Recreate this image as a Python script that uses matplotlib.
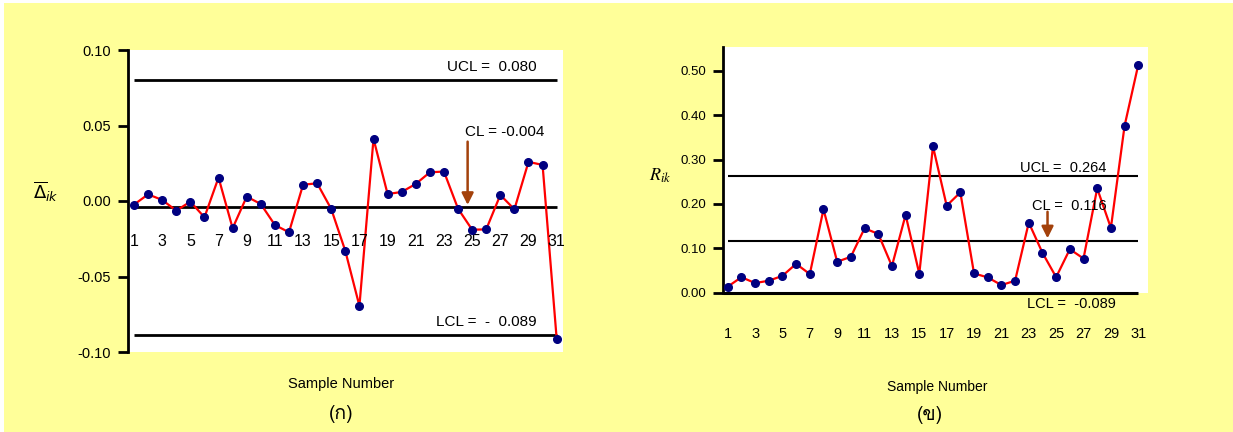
import matplotlib
matplotlib.use("Agg")
from matplotlib import pyplot as plt
from matplotlib import font_manager
from matplotlib.ft2font import FT2Font
from matplotlib.patches import Rectangle

# sample numbers shared by both charts
samples = list(range(1, 32))
tick_samples = list(range(1, 32, 2))

# mean deviation chart
delta_values = [-0.0024, 0.0044, 0.0007, -0.0064, -0.0004, -0.0108, 0.0155, -0.0180,
                0.0029, -0.0020, -0.0159, -0.0207, 0.0108, 0.0117, -0.0053, -0.0331,
                -0.0695, 0.0412, 0.0046, 0.0060, 0.0113, 0.0190, 0.0195, -0.0051,
                -0.0190, -0.0188, 0.0040, -0.0055, 0.0259, 0.0239, -0.0912]
delta_ucl = 0.080
delta_cl = -0.004
delta_lcl = -0.089
delta_yticks = [-0.10, -0.05, 0.00, 0.05, 0.10]

# range chart
range_values = [0.0135, 0.035, 0.0217, 0.027, 0.038, 0.065, 0.042, 0.188,
                0.0697, 0.081, 0.145, 0.1326, 0.060, 0.1753, 0.0427, 0.3297,
                0.196, 0.226, 0.0434, 0.0345, 0.0172, 0.027, 0.158, 0.0899,
                0.035, 0.098, 0.077, 0.235, 0.146, 0.376, 0.5135]
range_ucl = 0.264
range_cl = 0.116
range_lcl_text = "LCL =  -0.089"
range_yticks = [0.00, 0.10, 0.20, 0.30, 0.40, 0.50]

W, H = 1233, 432
BG = "#ffff99"
NAVY = "#000080"
ARROW = "#a3410b"


def thai_family():
    """Find an installed family that has Thai glyphs."""
    for f in font_manager.fontManager.ttflist:
        try:
            if 0x0E01 in FT2Font(f.fname).get_charmap():
                return f.name
        except Exception:
            pass
    return "DejaVu Sans"


def fx(px):
    return px / W


def fy(py):
    return 1 - py / H


def draw_series(ax, values):
    ax.plot(samples, values, color="red", lw=1.6, zorder=3)
    ax.plot(samples, values, ls="none", marker="o", ms=5.5, color=NAVY, zorder=4)


def brown_arrow(ax, x, y0, y1):
    ax.annotate("", xy=(x, y1), xytext=(x, y0),
                arrowprops=dict(arrowstyle="-|>,head_width=0.35,head_length=0.7",
                                color=ARROW, lw=1.8, shrinkA=0, shrinkB=0), zorder=5)


plt.rcParams["font.family"] = ["Liberation Sans", "DejaVu Sans"]
plt.rcParams["axes.unicode_minus"] = False

fig = plt.figure(figsize=(W / 100, H / 100), dpi=100, facecolor="white")
fig.patches.append(Rectangle((fx(4), 0), 1, fy(3), transform=fig.transFigure,
                             facecolor=BG, edgecolor="none", zorder=-10))

# left chart
ax1 = fig.add_axes([fx(129), fy(352), fx(434), fy(50) - fy(352)])
ax1.set_facecolor("white")
ax1.set_xlim(0.645, 31.45)
ax1.set_ylim(-0.10, 0.10)
for s in ["top", "right", "bottom"]:
    ax1.spines[s].set_visible(False)
ax1.spines["left"].set_linewidth(2)
ax1.spines["left"].set_position(("outward", 1))
ax1.set_xticks([])
ax1.set_yticks(delta_yticks)
ax1.set_yticklabels(["%.2f" % v for v in delta_yticks])
ax1.tick_params(axis="y", length=7, width=2, labelsize=10.5, pad=5)

ax1.hlines([delta_ucl, delta_cl, delta_lcl], 1, 31, colors="black", lw=2, zorder=2)
draw_series(ax1, delta_values)
for s in tick_samples:
    ax1.text(s, -0.027, str(s), ha="center", va="center", fontsize=11.5)
ax1.text(29.6, delta_ucl + 0.004, "UCL =  0.080", ha="right", va="bottom", fontsize=11)
ax1.text(30.1, 0.0457, "CL = -0.004", ha="right", va="center", fontsize=11)
ax1.text(29.6, delta_lcl + 0.004, "LCL =  -  0.089", ha="right", va="bottom", fontsize=11)
brown_arrow(ax1, 24.68, 0.0393, -0.0026)

# right chart
ax2 = fig.add_axes([fx(723), fy(292.7), fx(424.7), fy(47.3) - fy(292.7)])
ax2.set_facecolor("white")
ax2.set_xlim(0.657, 31.69)
ax2.set_ylim(0, 0.553)
for s in ["top", "right", "bottom"]:
    ax2.spines[s].set_visible(False)
ax2.spines["left"].set_linewidth(2)
ax2.set_xticks([])
ax2.set_yticks(range_yticks)
ax2.set_yticklabels(["%.2f" % v for v in range_yticks])
ax2.tick_params(axis="y", length=7, width=2, labelsize=9.5, pad=5)

ax2.hlines([range_ucl, range_cl], 1, 31, colors="black", lw=1.5, zorder=2)
ax2.hlines(0, 0.657, 31, colors="black", lw=2.2, zorder=2, clip_on=False)
draw_series(ax2, range_values)
for s in tick_samples:
    ax2.text(s, -0.094, str(s), ha="center", va="center", fontsize=10.5, clip_on=False)
ax2.text(28.7, 0.282, "UCL =  0.264", ha="right", va="center", fontsize=10.5)
ax2.text(28.7, 0.1965, "CL =  0.116", ha="right", va="center", fontsize=10.5)
ax2.text(29.4, -0.0255, range_lcl_text, ha="right", va="center", fontsize=10.5,
         clip_on=False)
brown_arrow(ax2, 24.37, 0.1824, 0.1225)

# axis titles and panel captions
fig.text(fx(46), fy(192), r"$\overline{\Delta}_{ik}$", ha="center", va="center", fontsize=13)
fig.text(fx(660), fy(176), r"$R_{ik}$", ha="center", va="center", fontsize=13,
         math_fontfamily="stix")
fig.text(fx(341), fy(384), "Sample Number", ha="center", va="center", fontsize=10.5)
fig.text(fx(937), fy(387), "Sample Number", ha="center", va="center", fontsize=10)

thai = thai_family()
fig.text(fx(341), fy(414), "(ก)", ha="center", va="center", fontsize=14,
         family=[thai, "DejaVu Sans"])
fig.text(fx(930), fy(415), "(ข)", ha="center", va="center", fontsize=14,
         family=[thai, "DejaVu Sans"])

fig.savefig("out.png", dpi=100, facecolor=fig.get_facecolor())
